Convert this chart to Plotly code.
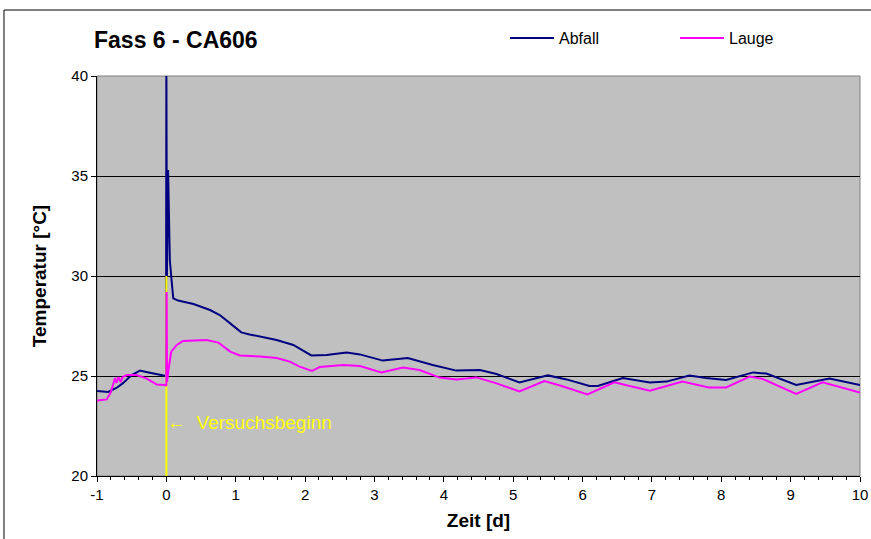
import plotly.graph_objects as go

# Abfall (waste) temperature, days relative to test start
abfall_t = [-1.0, -0.84, -0.72, -0.63, -0.5, -0.38, -0.29, -0.14, -0.005,
            0.0, 0.008, 0.025, 0.05, 0.08, 0.1, 0.17, 0.39, 0.63, 0.77, 0.92,
            1.08, 1.2, 1.39, 1.59, 1.83, 1.97, 2.09, 2.31, 2.6, 2.79, 3.12,
            3.48, 3.84, 4.18, 4.52, 4.76, 5.09, 5.5, 5.77, 6.1, 6.22, 6.58,
            6.97, 7.21, 7.54, 7.78, 8.07, 8.46, 8.65, 9.08, 9.56, 10.0]
abfall_temp = [24.25, 24.2, 24.4, 24.63, 25.05, 25.27, 25.2, 25.1, 25.0,
               41.0, 30.0, 35.3, 30.8, 29.6, 28.88, 28.77, 28.6, 28.3, 28.05,
               27.63, 27.18, 27.08, 26.93, 26.8, 26.55, 26.27, 26.03, 26.05,
               26.18, 26.08, 25.77, 25.9, 25.55, 25.27, 25.3, 25.1, 24.68,
               25.03, 24.83, 24.5, 24.5, 24.9, 24.68, 24.72, 25.02, 24.9, 24.8,
               25.18, 25.12, 24.55, 24.87, 24.55]

# Lauge (leachate) temperature
lauge_t = [-1.0, -0.86, -0.8, -0.77, -0.74, -0.72, -0.69, -0.66, -0.63,
           -0.57, -0.43, -0.29, -0.14, -0.02, 0.0, 0.004, 0.01, 0.03, 0.07,
           0.15, 0.24, 0.58, 0.75, 0.92, 1.06, 1.35, 1.59, 1.78, 1.92, 2.1,
           2.21, 2.55, 2.79, 3.1, 3.41, 3.65, 3.94, 4.18, 4.47, 4.76, 5.09,
           5.45, 5.7, 6.07, 6.46, 6.62, 6.97, 7.44, 7.82, 8.07, 8.41, 8.6,
           9.08, 9.46, 10.0]
lauge_temp = [23.77, 23.83, 24.2, 24.5, 24.9, 24.65, 24.95, 24.7, 24.95,
              25.05, 25.05, 24.88, 24.58, 24.55, 24.5, 29.2, 24.7, 25.3, 26.22,
              26.55, 26.75, 26.8, 26.67, 26.22, 26.03, 25.97, 25.9, 25.72,
              25.47, 25.25, 25.45, 25.55, 25.5, 25.18, 25.42, 25.3, 24.92,
              24.83, 24.93, 24.63, 24.23, 24.75, 24.5, 24.08, 24.68, 24.55,
              24.27, 24.72, 24.42, 24.43, 24.97, 24.85, 24.1, 24.68, 24.17]

# Test start marker
start_day = [0, 0]
start_marker_temp = [20, 30]
start_label = "←  Versuchsbeginn"

x_ticks = list(range(-1, 11))
x_tick_text = [str(v) for v in x_ticks]
y_ticks = [20, 25, 30, 35, 40]

FONT = "Liberation Sans, Arial, sans-serif"

fig = go.Figure()
fig.add_trace(go.Scatter(x=abfall_t, y=abfall_temp, mode="lines", name="Abfall",
                         line=dict(color="#000080", width=2)))
fig.add_trace(go.Scatter(x=start_day, y=start_marker_temp, mode="lines",
                         showlegend=False, hoverinfo="skip",
                         line=dict(color="#ffff00", width=2)))
fig.add_trace(go.Scatter(x=lauge_t, y=lauge_temp, mode="lines", name="Lauge",
                         line=dict(color="#ff00ff", width=2)))

# plot-area border (gray) and outer chart frame (black)
fig.add_shape(type="rect", xref="paper", yref="paper", x0=0, x1=1, y0=0, y1=1,
              line=dict(color="#808080", width=1), layer="below")
fig.add_shape(type="rect", xref="paper", yref="paper",
              x0=-0.1219, x1=1.04, y0=-0.2, y1=1.165,
              line=dict(color="#000000", width=1))

fig.add_annotation(x=start_day[0], y=22.7, xref="x", yref="y", text=start_label,
                   showarrow=False, xanchor="left", yanchor="middle", xshift=-1,
                   font=dict(family=FONT, size=19, color="#ffff00"))

# chart title
fig.add_annotation(x=-0.006, y=(476 - 40) / 400, xref="paper", yref="paper",
                   text="<b>Fass 6 - CA606</b>", showarrow=False,
                   xanchor="left", yanchor="middle",
                   font=dict(family=FONT, size=23, color="black"))

fig.update_layout(
    width=871, height=539,
    margin=dict(l=97, r=11, t=76, b=63, autoexpand=False),
    paper_bgcolor="white", plot_bgcolor="#c0c0c0",
    font=dict(family=FONT, size=14, color="black"),
    legend=dict(orientation="h", x=(505 - 97) / 763, y=(476 - 38) / 400,
                xref="paper", yref="paper", xanchor="left", yanchor="middle",
                bgcolor="rgba(0,0,0,0)", itemwidth=44,
                entrywidth=111, entrywidthmode="pixels",
                font=dict(family=FONT, size=16)),
    showlegend=True,
)

fig.update_xaxes(range=[-1, 10], tickvals=x_ticks, ticktext=x_tick_text,
                 ticks="outside", ticklen=5,
                 tickcolor="black", showline=True, linecolor="black",
                 linewidth=1, showgrid=False, zeroline=False,
                 minor=dict(dtick=0.2, ticks="outside", ticklen=3,
                            tickcolor="black", showgrid=False),
                 title=dict(text="<b>Zeit [d]</b>", standoff=11,
                            font=dict(family=FONT, size=19)),
                 tickfont=dict(family=FONT, size=15))
fig.update_yaxes(range=[20, 40], tickvals=y_ticks, ticks="outside", ticklen=5,
                 tickcolor="black", showline=True, linecolor="black",
                 linewidth=1, showgrid=True, gridcolor="black", gridwidth=1,
                 zeroline=False,
                 title=dict(text="<b>Temperatur [°C]</b>", standoff=19,
                            font=dict(family=FONT, size=19)),
                 tickfont=dict(family=FONT, size=15))

fig.write_html("out.html")
